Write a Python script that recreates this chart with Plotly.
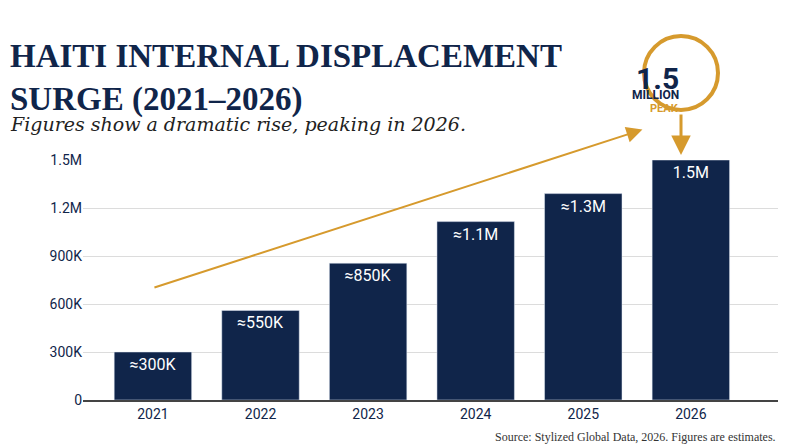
import plotly.graph_objects as go

years = ['2021', '2022', '2023', '2024', '2025', '2026']
displaced = [300000, 560000, 855000, 1115000, 1290000, 1500000]
bar_labels = ['≈300K', '≈550K', '≈850K', '≈1.1M', '≈1.3M', '1.5M']
tick_vals = [0, 300000, 600000, 900000, 1200000, 1500000]
tick_text = ['0', '300K', '600K', '900K', '1.2M', '1.5M']

navy = '#10254a'
gold = '#d69a2d'
W, H = 800, 447

fig = go.Figure(go.Bar(
    x=list(range(len(years))), y=displaced, width=0.72,
    marker_color=navy, text=bar_labels, textposition='inside',
    insidetextanchor='end',
    textfont=dict(color='white', size=16, family='Roboto'),
))

fig.update_layout(
    width=W, height=H, plot_bgcolor='white', paper_bgcolor='white',
    margin=dict(l=75, r=30, t=152, b=55), showlegend=False,
    font=dict(family='Roboto', color=navy),
    xaxis=dict(range=[-0.65, 5.81], tickvals=list(range(6)), ticktext=years,
               tickfont=dict(size=14, color=navy, family='Roboto'),
               showgrid=False, showline=True, linecolor='#444', linewidth=1.5),
    yaxis=dict(range=[0, 1500000], tickvals=tick_vals, ticktext=tick_text,
               tickfont=dict(size=14, color=navy, family='Roboto'),
               gridcolor='#dcdcdc', zeroline=False),
)

# titles
fig.add_annotation(xref='paper', yref='paper', x=-75/695, y=1+(152-28)/240,
                   xanchor='left', yanchor='top', align='left', showarrow=False,
                   text='<b>HAITI INTERNAL DISPLACEMENT<br>SURGE (2021–2026)</b>',
                   font=dict(family='Liberation Sans Narrow', size=33, color=navy))
fig.add_annotation(xref='paper', yref='paper', x=-75/695, y=1+(152-103)/240,
                   xanchor='left', yanchor='top', showarrow=False,
                   text='<i>Figures show a dramatic rise, peaking in 2026.</i>',
                   font=dict(family='DejaVu Serif', size=19, color='#222'))
fig.add_annotation(xref='paper', yref='paper', x=1, y=-(420-392)/240,
                   xanchor='right', yanchor='top', showarrow=False,
                   text='Source: Stylized Global Data, 2026. Figures are estimates.',
                   font=dict(family='Liberation Sans Narrow', size=12, color='#333'))

# trend arrow
fig.add_annotation(x=4.55, y=1690000, ax=0, ay=700000, xref='x', yref='y',
                   axref='x', ayref='y', showarrow=True, arrowhead=2,
                   arrowsize=1.6, arrowwidth=2, arrowcolor=gold, text='')

# peak badge
cx, cy, r = (673-75)/695, 1+(152-65)/240, 37
fig.add_shape(type='circle', xref='paper', yref='paper',
              x0=cx-r/695, x1=cx+r/695, y0=cy-r/240, y1=cy+r/240,
              line=dict(color=gold, width=4), fillcolor='white')
fig.add_annotation(xref='paper', yref='paper', x=cx, y=cy+14/240, showarrow=False,
                   text='<b>1.5</b>', font=dict(size=30, color=navy, family='Roboto'))
fig.add_annotation(xref='paper', yref='paper', x=cx, y=cy-13/240, showarrow=False,
                   text='<b>MILLION</b>', font=dict(size=12, color=navy, family='Roboto'))
fig.add_annotation(xref='paper', yref='paper', x=cx, y=cy-27/240, showarrow=False,
                   text='<b>PEAK</b>', font=dict(size=11, color=gold, family='Roboto'))
fig.add_annotation(xref='paper', yref='paper', x=cx, y=1+(152-147)/240,
                   ax=0, ay=-42, showarrow=True, arrowhead=2, arrowsize=1.3,
                   arrowwidth=3, arrowcolor=gold, text='')

fig.write_html('out.html')
